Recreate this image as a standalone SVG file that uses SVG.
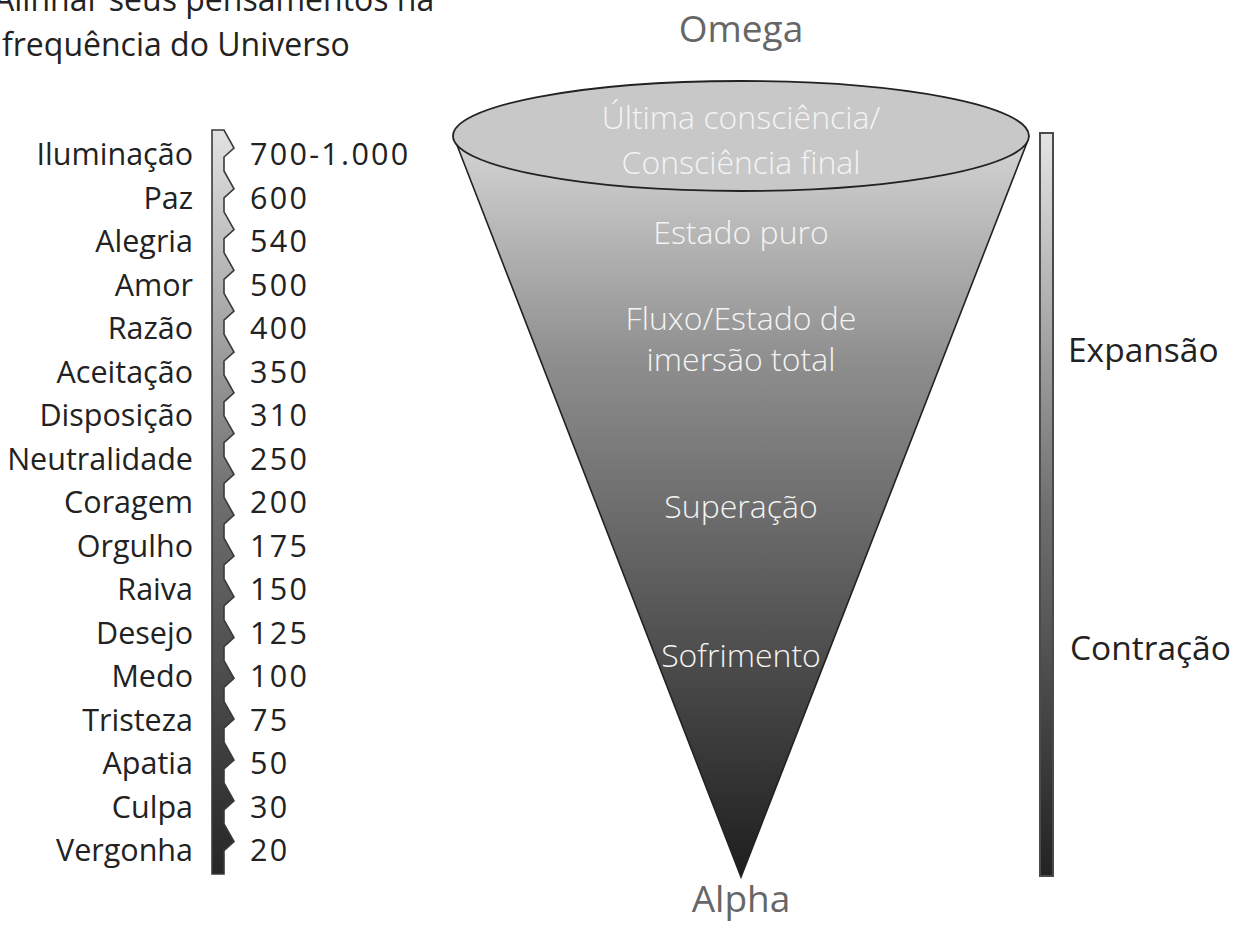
<svg xmlns="http://www.w3.org/2000/svg" width="1249" height="929" viewBox="0 0 1249 929">
<defs>
<linearGradient id="gBar" x1="0" y1="130" x2="0" y2="874" gradientUnits="userSpaceOnUse">
<stop offset="0" stop-color="#e2e2e2"/>
<stop offset="0.5" stop-color="#6e6e6e"/>
<stop offset="1" stop-color="#262626"/>
</linearGradient>
<linearGradient id="gCone" x1="0" y1="140" x2="0" y2="877" gradientUnits="userSpaceOnUse">
<stop offset="0" stop-color="#d4d4d4"/>
<stop offset="0.3" stop-color="#8e8e8e"/>
<stop offset="0.65" stop-color="#555"/>
<stop offset="1" stop-color="#1e1e1e"/>
</linearGradient>
<linearGradient id="gRight" x1="0" y1="133" x2="0" y2="876" gradientUnits="userSpaceOnUse">
<stop offset="0" stop-color="#e4e4e4"/>
<stop offset="0.5" stop-color="#707070"/>
<stop offset="1" stop-color="#232323"/>
</linearGradient>
<style>
text{font-family:"Open Sans","DejaVu Sans",sans-serif;font-variant-ligatures:none}
.lbl{font-size:30.5px;fill:#222;text-anchor:end}
.num{font-size:30.5px;fill:#222;letter-spacing:2.3px}
.cone{font-size:32px;font-weight:300;fill:#f4f4f4;text-anchor:middle}
.side{font-size:33.5px;fill:#222}
.pole{font-size:37px;fill:#666;text-anchor:middle}
.title{font-size:32px;fill:#222}
</style>
</defs>
<rect width="1249" height="929" fill="#fff"/>
<g id="title">
<text class="title" x="-6" y="11">Alinhar seus pensamentos na</text>
<text class="title" x="2" y="56">frequência do Universo</text>
</g>
<g id="scale">
<path d="M212,130 L224,130 L234,148 L224,157 L224,171 L234,188.8 L224,197.8 L224,211.8 L234,229.6 L224,238.6 L224,252.6 L234,270.4 L224,279.4 L224,293.4 L234,311.2 L224,320.2 L224,334.2 L234,352 L224,361 L224,375 L234,392.8 L224,401.8 L224,415.8 L234,433.6 L224,442.6 L224,456.6 L234,474.4 L224,483.4 L224,497.4 L234,515.2 L224,524.2 L224,538.2 L234,556 L224,565 L224,579 L234,596.8 L224,605.8 L224,619.8 L234,637.6 L224,646.6 L224,660.6 L234,678.4 L224,687.4 L224,701.4 L234,719.2 L224,728.2 L224,742.2 L234,760 L224,769 L224,783 L234,800.8 L224,809.8 L224,823.8 L234,841.6 L224,850.6 L224,874 L212,874 Z" fill="url(#gBar)" stroke="#3a3a3a" stroke-width="1.6" stroke-linejoin="miter"/>
</g>
<g id="labels">
<text class="lbl" x="193" y="165">Iluminação</text>
<text class="lbl" x="193" y="208.5">Paz</text>
<text class="lbl" x="193" y="252">Alegria</text>
<text class="lbl" x="193" y="295.5">Amor</text>
<text class="lbl" x="193" y="339">Razão</text>
<text class="lbl" x="193" y="382.5">Aceitação</text>
<text class="lbl" x="193" y="426">Disposição</text>
<text class="lbl" x="193" y="469.5">Neutralidade</text>
<text class="lbl" x="193" y="513">Coragem</text>
<text class="lbl" x="193" y="556.5">Orgulho</text>
<text class="lbl" x="193" y="600">Raiva</text>
<text class="lbl" x="193" y="643.5">Desejo</text>
<text class="lbl" x="193" y="687">Medo</text>
<text class="lbl" x="193" y="730.5">Tristeza</text>
<text class="lbl" x="193" y="774">Apatia</text>
<text class="lbl" x="193" y="817.5">Culpa</text>
<text class="lbl" x="193" y="861">Vergonha</text>
</g>
<g id="numbers">
<text class="num" x="250" y="165">700-1.000</text>
<text class="num" x="250" y="208.5">600</text>
<text class="num" x="250" y="252">540</text>
<text class="num" x="250" y="295.5">500</text>
<text class="num" x="250" y="339">400</text>
<text class="num" x="250" y="382.5">350</text>
<text class="num" x="250" y="426">310</text>
<text class="num" x="250" y="469.5">250</text>
<text class="num" x="250" y="513">200</text>
<text class="num" x="250" y="556.5">175</text>
<text class="num" x="250" y="600">150</text>
<text class="num" x="250" y="643.5">125</text>
<text class="num" x="250" y="687">100</text>
<text class="num" x="250" y="730.5">75</text>
<text class="num" x="250" y="774">50</text>
<text class="num" x="250" y="817.5">30</text>
<text class="num" x="250" y="861">20</text>
</g>
<g id="cone">
<path d="M455,140 L741,877 L1028,140 Z" fill="url(#gCone)" stroke="#222" stroke-width="1.6" stroke-linejoin="miter"/>
<ellipse cx="741" cy="136" rx="288" ry="55" fill="#c8c8c8" stroke="#222" stroke-width="1.8"/>
<text class="cone" x="741" y="129">Última consciência/</text>
<text class="cone" x="741" y="174">Consciência final</text>
<text class="cone" x="741" y="244">Estado puro</text>
<text class="cone" x="741" y="330">Fluxo/Estado de</text>
<text class="cone" x="741" y="371">imersão total</text>
<text class="cone" x="741" y="518">Superação</text>
<text class="cone" x="741" y="667">Sofrimento</text>
</g>
<g id="omega"><text class="pole" x="741" y="42">Omega</text></g>
<g id="alpha"><text class="pole" x="741" y="912">Alpha</text></g>
<g id="axis">
<rect x="1040" y="133" width="13" height="743" fill="url(#gRight)" stroke="#4a4a4a" stroke-width="2"/>
</g>
<g id="expansao"><text class="side" x="1068" y="362">Expansão</text></g>
<g id="contracao"><text class="side" x="1070" y="660">Contração</text></g>
</svg>
